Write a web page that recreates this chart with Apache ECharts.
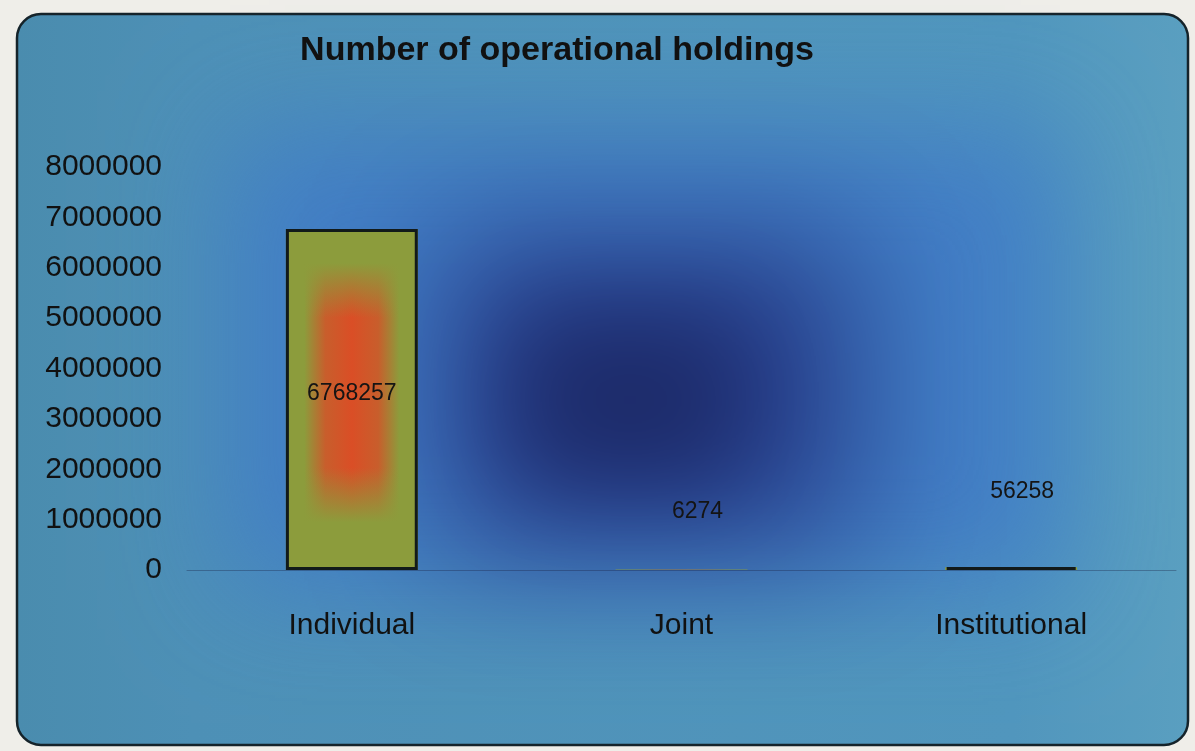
<!DOCTYPE html>
<html>
<head>
<meta charset="utf-8">
<script src="https://cdn.jsdelivr.net/npm/echarts@6/dist/echarts.min.js"></script>
<style>
  html, body { margin: 0; padding: 0; background: #efeee9; }
  #main { width: 1195px; height: 751px; }
</style>
</head>
<body>
<div id="main"></div>
<script>
// data
var categories = ['Individual', 'Joint', 'Institutional'];
var holdings = [6768257, 6274, 56258];
var yMax = 8000000;
var yStep = 1000000;

(function() {
  var FONT = '"Liberation Sans", Arial, sans-serif';
  var OLIVE = '#8c9c3c';
  var PLOT_H = 403; // grid height in px, used to hide sub-pixel bars' border
  var myChart = echarts.init(document.getElementById('main'));

  // where each value label sits (the source places them oddly)
  var labelStyle = [
    { position: 'inside', offset: [0, -6] },
    { position: 'top', offset: [16, -42] },
    { position: 'top', offset: [11, -59] }
  ];

  var overlayData = holdings.map(function(v, i) {
    return {
      value: v,
      itemStyle: { borderWidth: v / yMax * PLOT_H > 1 ? 3 : 0 },
      label: {
        show: true,
        position: labelStyle[i].position,
        offset: labelStyle[i].offset,
        fontSize: 23,
        color: '#141414',
        fontFamily: FONT,
        formatter: '{c}'
      }
    };
  });

  // soft blurred rectangle: shape is pushed off-canvas, only its shadow shows
  function glow(x, y, w, h, color, blur) {
    var shift = 4000;
    return {
      type: 'rect',
      silent: true,
      z: -9,
      shape: { x: x - shift, y: y, width: w, height: h },
      style: {
        fill: color,
        shadowColor: color,
        shadowBlur: blur,
        shadowOffsetX: shift
      }
    };
  }

  var option = {
    backgroundColor: '#efeee9',
    animation: false,
    graphic: [
      { // rounded panel
        type: 'rect',
        z: -10,
        silent: true,
        shape: { x: 17, y: 14, width: 1171, height: 731, r: 24 },
        style: {
          fill: new echarts.graphic.LinearGradient(0, 0, 1, 0, [
            { offset: 0, color: '#4a8cae' },
            { offset: 0.15, color: '#4d90b6' },
            { offset: 0.85, color: '#5096bd' },
            { offset: 1, color: '#5a9fc0' }
          ]),
          stroke: '#15232a',
          lineWidth: 2.5
        }
      },
      glow(230, 130, 830, 460, 'rgba(62,120,200,0.9)', 110),
      glow(440, 235, 420, 310, 'rgba(38,62,140,1)', 140),
      glow(520, 320, 220, 160, 'rgba(28,42,105,1)', 100)
    ],
    title: {
      text: 'Number of operational holdings',
      left: 552,
      textAlign: 'center',
      top: 29,
      textStyle: {
        fontFamily: FONT,
        fontSize: 34,
        fontWeight: 'bold',
        color: '#111'
      }
    },
    grid: {
      left: 187,
      right: 19,
      top: 167,
      bottom: 181,
      containLabel: false
    },
    xAxis: {
      type: 'category',
      data: categories,
      axisTick: { show: false },
      axisLine: { lineStyle: { color: 'rgba(25,35,70,0.35)', width: 1 } },
      axisLabel: {
        margin: 41,
        fontSize: 30,
        fontFamily: FONT,
        color: '#111'
      }
    },
    yAxis: {
      type: 'value',
      min: 0,
      max: yMax,
      interval: yStep,
      splitLine: { show: false },
      axisLine: { show: false },
      axisTick: { show: false },
      axisLabel: {
        margin: 25,
        fontSize: 30,
        fontFamily: FONT,
        color: '#111',
        formatter: function(v) { return String(v); }
      }
    },
    series: [
      {
        type: 'bar',
        barWidth: '40%',
        barGap: '-100%',
        z: 2,
        data: holdings,
        itemStyle: {
          color: new echarts.graphic.LinearGradient(0, 0, 1, 0, [
            { offset: 0, color: OLIVE },
            { offset: 0.14, color: OLIVE },
            { offset: 0.3, color: '#c85e2c' },
            { offset: 0.5, color: '#da4e26' },
            { offset: 0.7, color: '#c85e2c' },
            { offset: 0.86, color: OLIVE },
            { offset: 1, color: OLIVE }
          ])
        }
      },
      {
        type: 'bar',
        barWidth: '40%',
        barGap: '-100%',
        z: 3,
        data: overlayData,
        itemStyle: {
          color: new echarts.graphic.LinearGradient(0, 0, 0, 1, [
            { offset: 0, color: 'rgba(140,156,60,1)' },
            { offset: 0.1, color: 'rgba(140,156,60,1)' },
            { offset: 0.26, color: 'rgba(140,156,60,0)' },
            { offset: 0.7, color: 'rgba(140,156,60,0)' },
            { offset: 0.86, color: 'rgba(140,156,60,1)' },
            { offset: 1, color: 'rgba(140,156,60,1)' }
          ]),
          borderColor: '#121a1a'
        }
      }
    ]
  };

  myChart.setOption(option);
})();
</script>
</body>
</html>
